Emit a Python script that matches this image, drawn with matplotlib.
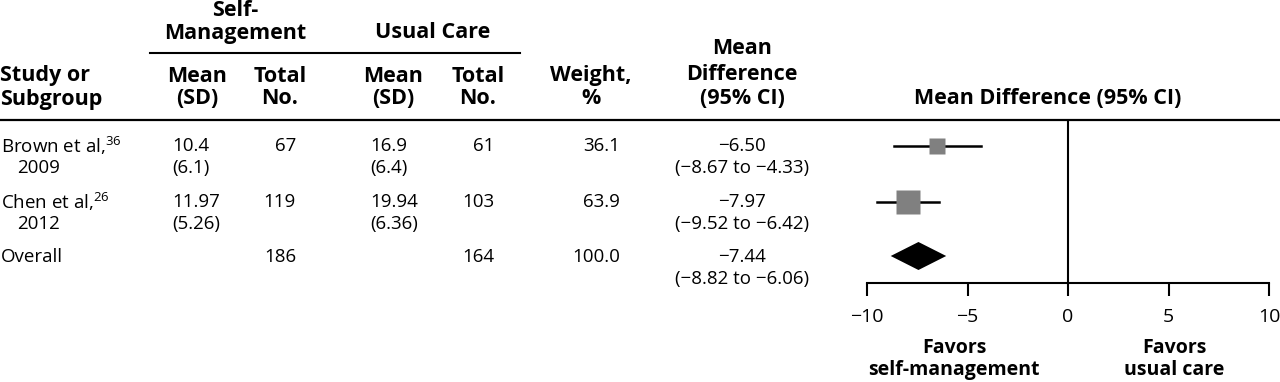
import matplotlib
matplotlib.use('Agg')
import matplotlib.pyplot as plt

plt.rcParams['font.family'] = ['Open Sans', 'DejaVu Sans']
plt.rcParams['mathtext.fontset'] = 'custom'
plt.rcParams['mathtext.rm'] = 'Open Sans'

# data
studies = ['Brown et al,', 'Chen et al,']
refs = ['36', '26']
years = ['2009', '2012']
sm_mean = ['10.4', '11.97']
sm_sd = ['6.1', '5.26']
sm_n = [67, 119]
uc_mean = ['16.9', '19.94']
uc_sd = ['6.4', '6.36']
uc_n = [61, 103]
weights = [36.1, 63.9]
md = [-6.50, -7.97]
md_lo = [-8.67, -9.52]
md_hi = [-4.33, -6.42]
overall_n = [186, 164]
overall_weight = 100.0
overall_md = -7.44
overall_lo = -8.82
overall_hi = -6.06
xticks = [-10, -5, 0, 5, 10]

W, H = 1280, 382
fig = plt.figure(figsize=(W / 100, H / 100), dpi=100)
ax = fig.add_axes([0, 0, 1, 1])
ax.set_xlim(0, W)
ax.set_ylim(H, 0)
ax.axis('off')

fs = 13.5
bfs = 15.5


def txt(x, y, s, ha='left', bold=False, size=None):
    if size is None:
        size = bfs if bold else fs
    ax.text(x, y, s, ha=ha, va='center', fontsize=size,
            fontweight='bold' if bold else 'normal')


def mnum(v):
    return f'{v:.2f}'.replace('-', '\u2212')


# header
txt(235, 11, 'Self-', 'center', True)
txt(235, 33, 'Management', 'center', True)
txt(433, 33, 'Usual Care', 'center', True)
ax.plot([150, 520], [53, 53], color='black', lw=1.5)

txt(0, 76, 'Study or', bold=True)
txt(0, 99, 'Subgroup', bold=True)
for cx, a, b in [(197, 'Mean', '(SD)'), (280, 'Total', 'No.'),
                 (393, 'Mean', '(SD)'), (478, 'Total', 'No.'),
                 (591, 'Weight,', '%')]:
    txt(cx, 76, a, 'center', True)
    txt(cx, 99, b, 'center', True)
txt(742, 49, 'Mean', 'center', True)
txt(742, 74, 'Difference', 'center', True)
txt(742, 99, '(95% CI)', 'center', True)
txt(1048, 99, 'Mean Difference (95% CI)', 'center', True)
ax.plot([0, W], [120, 120], color='black', lw=1.6)

# rows
row_y = [146, 202]
gap = 22
for i in range(len(studies)):
    y = row_y[i]
    txt(1, y, studies[i] + r'$^{\mathregular{' + refs[i] + '}}$')
    txt(17, y + gap, years[i])
    txt(172, y, sm_mean[i])
    txt(172, y + gap, '(' + sm_sd[i] + ')')
    txt(296, y, str(sm_n[i]), 'right')
    txt(370, y, uc_mean[i])
    txt(370, y + gap, '(' + uc_sd[i] + ')')
    txt(494, y, str(uc_n[i]), 'right')
    txt(620, y, f'{weights[i]:.1f}', 'right')
    txt(742, y, mnum(md[i]), 'center')
    txt(742, y + gap, f'({mnum(md_lo[i])} to {mnum(md_hi[i])})', 'center')

oy = 257
txt(1, oy, 'Overall')
txt(296, oy, str(overall_n[0]), 'right')
txt(494, oy, str(overall_n[1]), 'right')
txt(620, oy, f'{overall_weight:.1f}', 'right')
txt(742, oy, mnum(overall_md), 'center')
txt(742, oy + gap, f'({mnum(overall_lo)} to {mnum(overall_hi)})', 'center')

# forest plot
x0, x1, ytop, ybot = 867, 1269, 120, 283
axf = fig.add_axes([x0 / W, 1 - ybot / H, (x1 - x0) / W, (ybot - ytop) / H])
axf.set_xlim(-10, 10)
axf.set_ylim(ybot, ytop)
axf.patch.set_alpha(0)
for s in ['top', 'left', 'right']:
    axf.spines[s].set_visible(False)
axf.spines['bottom'].set_linewidth(1.5)
axf.set_yticks([])
axf.set_xticks(xticks)
axf.set_xticklabels([str(t).replace('-', '\u2212') for t in xticks])
axf.tick_params(axis='x', direction='out', length=9, width=1.5, pad=9,
                labelsize=14)
axf.axvline(0, color='black', lw=1.5)

for i in range(len(studies)):
    axf.plot([md_lo[i], md_hi[i]], [row_y[i], row_y[i]], color='black', lw=1.8)
    axf.plot(md[i], row_y[i], marker='s', color='#808080', ms=4 + 0.2 * weights[i],
             mec='none')

dh = 14
axf.fill([overall_lo, overall_md, overall_hi, overall_md],
         [oy - 1, oy - 1 - dh, oy - 1, oy - 1 + dh], color='black', lw=0)

txt(954, 348, 'Favors', 'center', True, 14)
txt(954, 370, 'self-management', 'center', True, 14)
txt(1174, 348, 'Favors', 'center', True, 14)
txt(1174, 370, 'usual care', 'center', True, 14)

fig.savefig('out.png', dpi=100)
